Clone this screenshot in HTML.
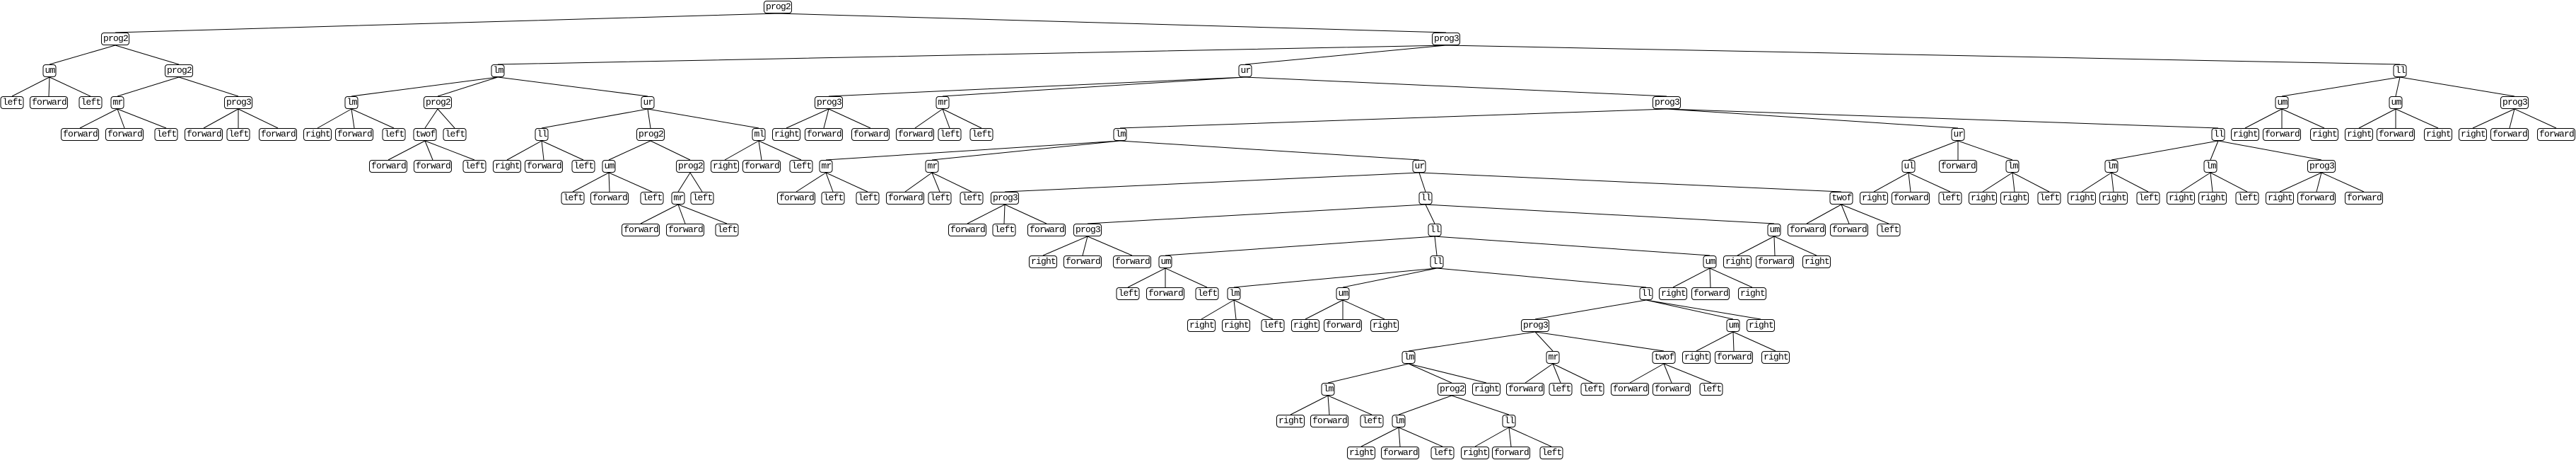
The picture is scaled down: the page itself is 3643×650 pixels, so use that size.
<!DOCTYPE html>
<html><head><meta charset="utf-8"><style>
html,body{margin:0;padding:0;background:#fff}
#w{position:relative;width:3643px;height:650px;overflow:hidden;background:#fff}
svg{position:absolute;left:0;top:0}
.r{position:absolute;left:0;width:3643px;height:18px}
.r div{position:absolute;transform:translateX(-50%);height:16px;line-height:16px;padding:0 1px 0 2px;border:1px solid #000;border-radius:4px;background:#fff;font-family:"Liberation Mono",monospace;font-size:13px;letter-spacing:-0.8px;color:#000;white-space:nowrap;top:0}
</style></head><body><div id="w">
<svg width="3643" height="650"><path fill="none" stroke="#000" stroke-width="1" d="
M1100 19L163 46M1100 19L2045 46
M163 64L70 91M163 64L253 91M2045 64L704 91M2045 64L1761 91M2045 64L3394 91
M70 109L17 136M70 109L69 136M70 109L128 136M253 109L166 136M253 109L337 136M704 109L497 136M704 109L619 136M704 109L916 136M1761 109L1172 136M1761 109L1333 136M1761 109L2357 136M3394 109L3227 136M3394 109L3388 136M3394 109L3556 136
M166 154L113 181M166 154L176 181M166 154L235 181M337 154L288 181M337 154L337 181M337 154L393 181M497 154L449 181M497 154L501 181M497 154L557 181M619 154L601 181M619 154L643 181M916 154L766 181M916 154L920 181M916 154L1073 181M1172 154L1112 181M1172 154L1165 181M1172 154L1231 181M1333 154L1294 181M1333 154L1343 181M1333 154L1388 181M2357 154L1584 181M2357 154L2769 181M2357 154L3137 181M3227 154L3175 181M3227 154L3227 181M3227 154L3287 181M3388 154L3336 181M3388 154L3388 181M3388 154L3448 181M3556 154L3497 181M3556 154L3549 181M3556 154L3615 181
M601 199L549 226M601 199L612 226M601 199L671 226M766 199L717 226M766 199L769 226M766 199L825 226M920 199L861 226M920 199L976 226M1073 199L1025 226M1073 199L1077 226M1073 199L1133 226M1584 199L1168 226M1584 199L1318 226M1584 199L2007 226M2769 199L2699 226M2769 199L2769 226M2769 199L2846 226M3137 199L2986 226M3137 199L3126 226M3137 199L3283 226
M861 244L810 271M861 244L862 271M861 244L922 271M976 244L959 271M976 244L993 271M1168 244L1126 271M1168 244L1178 271M1168 244L1227 271M1318 244L1280 271M1318 244L1329 271M1318 244L1374 271M2007 244L1421 271M2007 244L2016 271M2007 244L2604 271M2699 244L2650 271M2699 244L2702 271M2699 244L2758 271M2846 244L2804 271M2846 244L2849 271M2846 244L2898 271M2986 244L2944 271M2986 244L2989 271M2986 244L3038 271M3126 244L3084 271M3126 244L3129 271M3126 244L3178 271M3283 244L3224 271M3283 244L3276 271M3283 244L3343 271
M959 289L906 316M959 289L969 316M959 289L1028 316M1421 289L1368 316M1421 289L1420 316M1421 289L1480 316M2016 289L1538 316M2016 289L2029 316M2016 289L2509 316M2604 289L2555 316M2604 289L2615 316M2604 289L2671 316
M1538 334L1475 361M1538 334L1531 361M1538 334L1601 361M2029 334L1648 361M2029 334L2032 361M2029 334L2418 361M2509 334L2457 361M2509 334L2510 361M2509 334L2569 361
M1648 379L1595 406M1648 379L1648 406M1648 379L1707 406M2032 379L1745 406M2032 379L1899 406M2032 379L2328 406M2418 379L2366 406M2418 379L2419 406M2418 379L2478 406
M1745 424L1699 451M1745 424L1748 451M1745 424L1800 451M1899 424L1846 451M1899 424L1899 451M1899 424L1958 451M2328 424L2171 451M2328 424L2451 451M2328 424L2490 451
M2171 469L1992 496M2171 469L2196 496M2171 469L2353 496M2451 469L2399 496M2451 469L2452 496M2451 469L2511 496
M1992 514L1878 541M1992 514L2053 541M1992 514L2102 541M2196 514L2157 541M2196 514L2207 541M2196 514L2252 541M2353 514L2305 541M2353 514L2364 541M2353 514L2420 541
M1878 559L1825 586M1878 559L1880 586M1878 559L1940 586M2053 559L1978 586M2053 559L2134 586
M1978 604L1925 631M1978 604L1980 631M1978 604L2040 631M2134 604L2086 631M2134 604L2137 631M2134 604L2194 631
"/></svg>
<div class="r" style="top:1px"><div style="left:1100px">prog2</div></div>
<div class="r" style="top:46px"><div style="left:163px">prog2</div><div style="left:2045px">prog3</div></div>
<div class="r" style="top:91px"><div style="left:70px">um</div><div style="left:253px">prog2</div><div style="left:704px">lm</div><div style="left:1761px">ur</div><div style="left:3394px">ll</div></div>
<div class="r" style="top:136px"><div style="left:17px">left</div><div style="left:69px">forward</div><div style="left:128px">left</div><div style="left:166px">mr</div><div style="left:337px">prog3</div><div style="left:497px">lm</div><div style="left:619px">prog2</div><div style="left:916px">ur</div><div style="left:1172px">prog3</div><div style="left:1333px">mr</div><div style="left:2357px">prog3</div><div style="left:3227px">um</div><div style="left:3388px">um</div><div style="left:3556px">prog3</div></div>
<div class="r" style="top:181px"><div style="left:113px">forward</div><div style="left:176px">forward</div><div style="left:235px">left</div><div style="left:288px">forward</div><div style="left:337px">left</div><div style="left:393px">forward</div><div style="left:449px">right</div><div style="left:501px">forward</div><div style="left:557px">left</div><div style="left:601px">twof</div><div style="left:643px">left</div><div style="left:766px">ll</div><div style="left:920px">prog2</div><div style="left:1073px">ml</div><div style="left:1112px">right</div><div style="left:1165px">forward</div><div style="left:1231px">forward</div><div style="left:1294px">forward</div><div style="left:1343px">left</div><div style="left:1388px">left</div><div style="left:1584px">lm</div><div style="left:2769px">ur</div><div style="left:3137px">ll</div><div style="left:3175px">right</div><div style="left:3227px">forward</div><div style="left:3287px">right</div><div style="left:3336px">right</div><div style="left:3388px">forward</div><div style="left:3448px">right</div><div style="left:3497px">right</div><div style="left:3549px">forward</div><div style="left:3615px">forward</div></div>
<div class="r" style="top:226px"><div style="left:549px">forward</div><div style="left:612px">forward</div><div style="left:671px">left</div><div style="left:717px">right</div><div style="left:769px">forward</div><div style="left:825px">left</div><div style="left:861px">um</div><div style="left:976px">prog2</div><div style="left:1025px">right</div><div style="left:1077px">forward</div><div style="left:1133px">left</div><div style="left:1168px">mr</div><div style="left:1318px">mr</div><div style="left:2007px">ur</div><div style="left:2699px">ul</div><div style="left:2769px">forward</div><div style="left:2846px">lm</div><div style="left:2986px">lm</div><div style="left:3126px">lm</div><div style="left:3283px">prog3</div></div>
<div class="r" style="top:271px"><div style="left:810px">left</div><div style="left:862px">forward</div><div style="left:922px">left</div><div style="left:959px">mr</div><div style="left:993px">left</div><div style="left:1126px">forward</div><div style="left:1178px">left</div><div style="left:1227px">left</div><div style="left:1280px">forward</div><div style="left:1329px">left</div><div style="left:1374px">left</div><div style="left:1421px">prog3</div><div style="left:2016px">ll</div><div style="left:2604px">twof</div><div style="left:2650px">right</div><div style="left:2702px">forward</div><div style="left:2758px">left</div><div style="left:2804px">right</div><div style="left:2849px">right</div><div style="left:2898px">left</div><div style="left:2944px">right</div><div style="left:2989px">right</div><div style="left:3038px">left</div><div style="left:3084px">right</div><div style="left:3129px">right</div><div style="left:3178px">left</div><div style="left:3224px">right</div><div style="left:3276px">forward</div><div style="left:3343px">forward</div></div>
<div class="r" style="top:316px"><div style="left:906px">forward</div><div style="left:969px">forward</div><div style="left:1028px">left</div><div style="left:1368px">forward</div><div style="left:1420px">left</div><div style="left:1480px">forward</div><div style="left:1538px">prog3</div><div style="left:2029px">ll</div><div style="left:2509px">um</div><div style="left:2555px">forward</div><div style="left:2615px">forward</div><div style="left:2671px">left</div></div>
<div class="r" style="top:361px"><div style="left:1475px">right</div><div style="left:1531px">forward</div><div style="left:1601px">forward</div><div style="left:1648px">um</div><div style="left:2032px">ll</div><div style="left:2418px">um</div><div style="left:2457px">right</div><div style="left:2510px">forward</div><div style="left:2569px">right</div></div>
<div class="r" style="top:406px"><div style="left:1595px">left</div><div style="left:1648px">forward</div><div style="left:1707px">left</div><div style="left:1745px">lm</div><div style="left:1899px">um</div><div style="left:2328px">ll</div><div style="left:2366px">right</div><div style="left:2419px">forward</div><div style="left:2478px">right</div></div>
<div class="r" style="top:451px"><div style="left:1699px">right</div><div style="left:1748px">right</div><div style="left:1800px">left</div><div style="left:1846px">right</div><div style="left:1899px">forward</div><div style="left:1958px">right</div><div style="left:2171px">prog3</div><div style="left:2451px">um</div><div style="left:2490px">right</div></div>
<div class="r" style="top:496px"><div style="left:1992px">lm</div><div style="left:2196px">mr</div><div style="left:2353px">twof</div><div style="left:2399px">right</div><div style="left:2452px">forward</div><div style="left:2511px">right</div></div>
<div class="r" style="top:541px"><div style="left:1878px">lm</div><div style="left:2053px">prog2</div><div style="left:2102px">right</div><div style="left:2157px">forward</div><div style="left:2207px">left</div><div style="left:2252px">left</div><div style="left:2305px">forward</div><div style="left:2364px">forward</div><div style="left:2420px">left</div></div>
<div class="r" style="top:586px"><div style="left:1825px">right</div><div style="left:1880px">forward</div><div style="left:1940px">left</div><div style="left:1978px">lm</div><div style="left:2134px">ll</div></div>
<div class="r" style="top:631px"><div style="left:1925px">right</div><div style="left:1980px">forward</div><div style="left:2040px">left</div><div style="left:2086px">right</div><div style="left:2137px">forward</div><div style="left:2194px">left</div></div>
</div></body></html>
